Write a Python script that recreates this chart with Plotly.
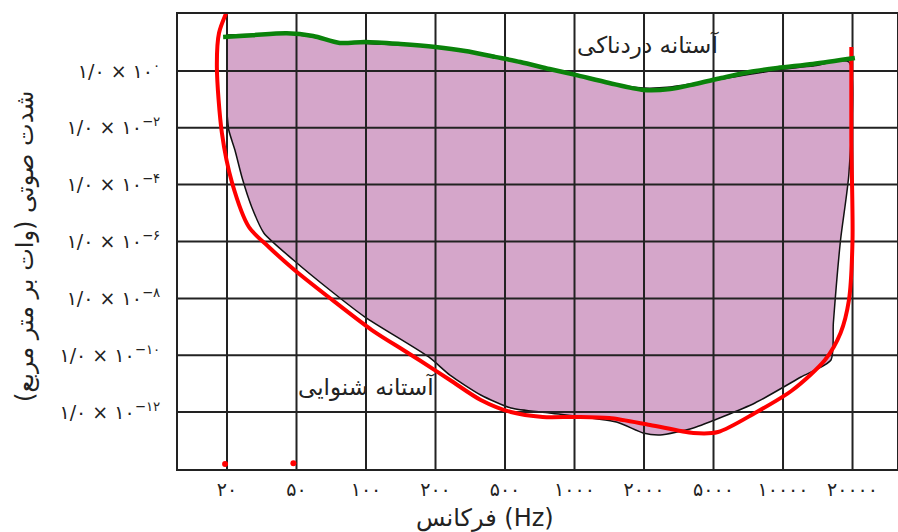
import numpy as np
import plotly.graph_objects as go

# frequency ticks (Hz) and intensity exponents (W/m^2)
TICK_HZ = [20, 50, 100, 200, 500, 1000, 2000, 5000, 10000, 20000]
TICK_EXP = [0, -2, -4, -6, -8, -10, -12]

# audible region (outlined, filled)
REGION_HZ = [20, 44, 59, 77, 200, 438, 779, 1414, 1990, 2824, 5405, 9455, 13480, 19300,
             19300, 17750, 16520, 16130, 11960, 7561, 3834, 2474, 1980, 1519, 779, 530,
             363, 242, 187, 99, 69.7, 48, 32.5, 27.7, 24.5, 22.2, 20.5, 20]
REGION_I = [18.3, 19.8, 15.5, 10.4, 6.9, 3.1, 1.16, 0.375, 0.25, 0.27, 0.52, 1.07, 1.49, 2.05,
            2.57e-4, 1.13e-6, 1.36e-9, 6.8e-11, 1.72e-11, 2.1e-12, 2.77e-13, 1.57e-13, 1.85e-13,
            4.5e-13, 9.3e-13, 1.4e-12, 4.0e-12, 2.0e-11, 8.7e-11, 2.2e-9, 1.97e-8, 2.24e-7,
            2.0e-6, 1.64e-5, 1.6e-4, 1.65e-3, 8e-3, 0.033]

# threshold of hearing (red)
HEARING_HZ = [20.5, 18.0, 17.5, 18.7, 21.4, 26.7, 34.7, 48.7, 69.7, 106, 145, 170, 242, 363,
              530, 728, 1010, 1414, 2166, 3834, 5229, 7561, 11000, 15190, 17750, 19300, 20000,
              19760, 19760]
HEARING_I = [176, 21.5, 1.37, 6.5e-3, 1.14e-4, 3.24e-6, 6.4e-7, 1.0e-7, 1.03e-8, 7.7e-10,
             1.53e-10, 6.8e-11, 1.35e-11, 2.68e-12, 1.01e-12, 6.8e-13, 6.8e-13, 6.2e-13,
             3.54e-13, 1.85e-13, 2.0e-13, 9.3e-13, 6.0e-12, 6.8e-11, 6.1e-10, 8.8e-9, 1.13e-6,
             3.7e-3, 6.9]

# threshold of pain (green)
PAIN_HZ = [19, 28, 44, 59, 77, 99, 141, 200, 296, 438, 583, 779, 1010, 1414, 1990, 2824,
           3936, 5405, 7150, 9455, 13480, 20480]
PAIN_I = [15.5, 18, 21, 16.8, 9.6, 10.4, 8.8, 6.9, 5.0, 3.1, 2.05, 1.16, 0.72, 0.375, 0.213,
          0.23, 0.346, 0.56, 0.91, 1.26, 1.75, 2.84]

# stray pen dots
DOT_HZ = [19.5, 48, 18, 2.3]
DOT_I = [1.5e-14, 1.6e-14, 1.3e-15, 0.66]

XRANGE = [-0.705, 9.64]
YRANGE_EXP = [-14, 2]
FONT = "DejaVu Sans"

FA = str.maketrans("0123456789", "۰۱۲۳۴۵۶۷۸۹")


def fa(v):
    return str(v).translate(FA)


def hz_to_pos(hz):
    knots = [1.28, 3.2, 8] + TICK_HZ + [40000]
    pos = np.arange(-3, len(TICK_HZ) + 1)
    return np.interp(np.log10(hz), np.log10(knots), pos)


fig = go.Figure()

fig.add_trace(go.Scatter(
    x=hz_to_pos(REGION_HZ), y=REGION_I, mode="lines", fill="toself",
    fillcolor="#d5a6ca", line=dict(color="#111", width=1.5, shape="spline", smoothing=0.6),
    hoverinfo="skip"))

# grid drawn over the fill
gx, gy = [], []
for i in range(len(TICK_HZ)):
    gx += [i, i, None]
    gy += [10 ** YRANGE_EXP[0], 10 ** YRANGE_EXP[1], None]
for e in TICK_EXP:
    gx += [XRANGE[0], XRANGE[1], None]
    gy += [10.0 ** e, 10.0 ** e, None]
fig.add_trace(go.Scatter(x=gx, y=gy, mode="lines", line=dict(color="#222", width=2),
                         hoverinfo="skip"))

fig.add_trace(go.Scatter(
    x=hz_to_pos(HEARING_HZ), y=HEARING_I, mode="lines",
    line=dict(color="#ff0000", width=4, shape="spline", smoothing=0.8)))
fig.add_trace(go.Scatter(
    x=hz_to_pos(PAIN_HZ), y=PAIN_I, mode="lines",
    line=dict(color="#0a820a", width=4.5, shape="spline", smoothing=0.8)))
fig.add_trace(go.Scatter(
    x=hz_to_pos(DOT_HZ), y=DOT_I, mode="markers", cliponaxis=False,
    marker=dict(color="#ff0000", size=6)))

ytext = [f"۱/۰ × ۱۰<sup>{'−' if e < 0 else ''}{fa(abs(e))}</sup>" for e in TICK_EXP]

fig.update_layout(
    width=898, height=532,
    margin=dict(l=178, r=1, t=14, b=63),
    paper_bgcolor="white", plot_bgcolor="white",
    showlegend=False,
    font=dict(family=FONT, color="#222", size=18),
    xaxis=dict(range=XRANGE, tickvals=list(range(len(TICK_HZ))),
               ticktext=[fa(t) for t in TICK_HZ], showgrid=False, zeroline=False,
               showline=True, mirror=True, linecolor="#222", linewidth=2, automargin=False,
               ticks="", ticklabelstandoff=2, tickfont=dict(size=19)),
    yaxis=dict(type="log", range=YRANGE_EXP, tickvals=[10.0 ** e for e in TICK_EXP],
               ticktext=ytext, showgrid=False, zeroline=False, automargin=False,
               showline=True, mirror=True, linecolor="#222", linewidth=2,
               ticks="", ticklabelstandoff=12, tickfont=dict(size=19)),
    annotations=[
        dict(x=6.06, y=0.91, xref="x", yref="y", text="آستانه دردناکی", showarrow=False,
             xanchor="center", yanchor="middle", font=dict(size=23, color="#222")),
        dict(x=2.01, y=-11.12, xref="x", yref="y", text="آستانه شنوایی", showarrow=False,
             xanchor="center", yanchor="middle", font=dict(size=23, color="#222")),
        dict(x=-0.213, y=0.49, xref="paper", yref="paper", textangle=-90,
             xanchor="center", yanchor="middle",
             text="\u200fشدت صوتی (وات بر متر مربع)\u200f", showarrow=False,
             font=dict(size=24, color="#222")),
        dict(x=0.427, y=-0.108, xref="paper", yref="paper", text="فرکانس (Hz)",
             xanchor="center", yanchor="middle",
             showarrow=False, font=dict(size=24, color="#222")),
    ],
)

fig.write_html("out.html", config={"displayModeBar": False},
               post_script="document.body.style.margin='0';document.body.style.overflow='hidden';")
